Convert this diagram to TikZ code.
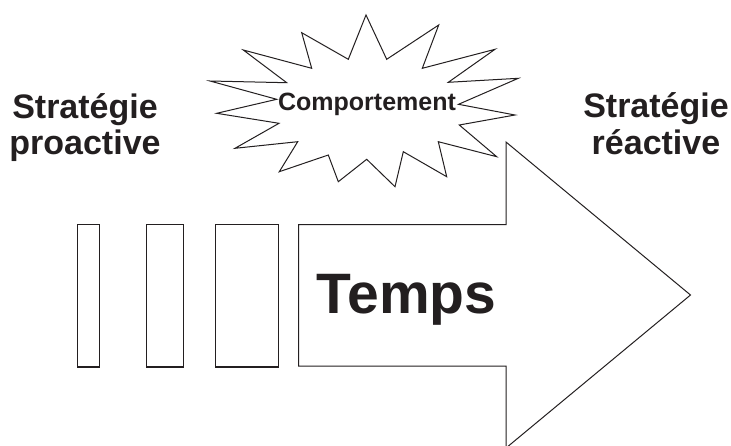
\documentclass[tikz,border=0pt]{standalone}
\usepackage{fontspec}
\setmainfont{Liberation Sans}
\definecolor{ink}{HTML}{231F20}
\begin{document}
\begin{tikzpicture}[x=1pt,y=-1pt,
  outline/.style={draw=ink,line width=1pt,fill=white,line join=miter},
  bar/.style={draw=ink,line width=1.4pt,fill=white},
  label/.style={text=ink,font=\bfseries\fontsize{34}{36}\selectfont,anchor=base,inner sep=0pt}]
\useasboundingbox (0,0) rectangle (731,445);

% time bars, growing wider towards the arrow
\draw[bar] (77.5,224.5) rectangle (99.5,367);
\draw[bar] (146.5,224.5) rectangle (183.5,367);
\draw[bar] (215.5,224.5) rectangle (278.5,367);

% time arrow
\draw[outline] (298.5,224.5) -- (506,224.5) -- (506,142) -- (690.5,295)
  -- (506,448) -- (506,366) -- (298.5,366) -- cycle;
\node[text=ink,font=\bfseries\fontsize{57}{60}\selectfont,anchor=base,inner sep=0pt]
  (temps) at (406.5,313) {Temps};

% burst around the behaviour label
\draw[outline] (366,15) -- (386.7,59.3) -- (438.7,25) -- (422.3,68.3)
  -- (495,49.3) -- (448.3,82.3) -- (518.3,78.3) -- (458.5,104.3)
  -- (515,115) -- (459.3,125) -- (496.7,156.7) -- (438.3,141.7)
  -- (446.7,176.7) -- (403.3,151.7) -- (395,186.7) -- (366.7,159.3)
  -- (338.3,181.7) -- (328.3,155) -- (279.3,171.7) -- (297.7,141.7)
  -- (235,148.3) -- (279,123.3) -- (216.7,113.3) -- (276.7,99.3)
  -- (210,81) -- (286.7,82.7) -- (243.3,50) -- (311.7,68.3)
  -- (301.7,32.7) -- (348.3,59.3) -- cycle;
\node[text=ink,font=\bfseries\fontsize{25}{28}\selectfont,anchor=base,inner sep=0pt]
  (comp) at (367,110) {Comportement};

% strategy labels
\node[label] (proA) at (85,118.3) {Stratégie};
\node[label] (proB) at (85,154) {proactive};
\node[label] (reaA) at (656,117.3) {Stratégie};
\node[label] (reaB) at (656,154) {réactive};
\end{tikzpicture}
\end{document}
